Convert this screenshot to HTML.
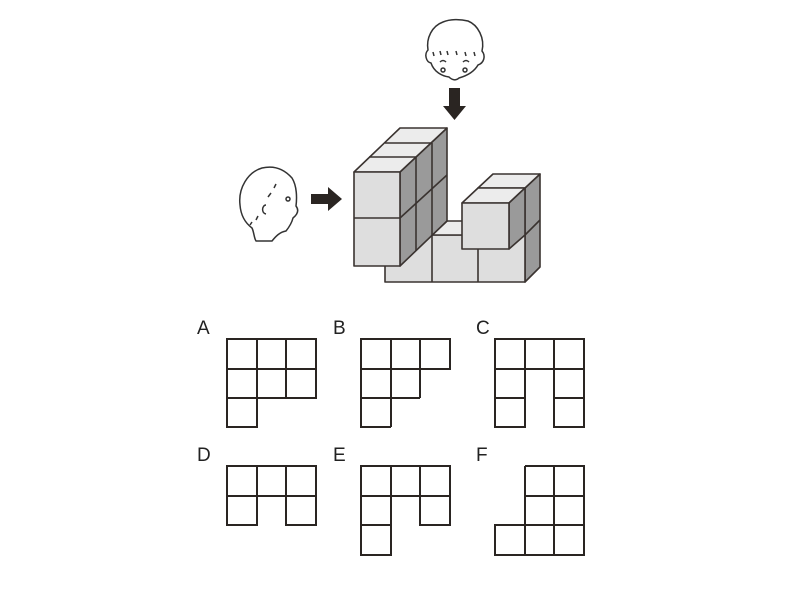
<!DOCTYPE html>
<html><head><meta charset="utf-8"><style>
html,body{margin:0;padding:0;background:#fff;}
svg{display:block}
text{font-family:"Liberation Sans",sans-serif;font-size:19px;fill:#222}
</style></head><body>
<svg width="800" height="600" viewBox="0 0 800 600" xmlns="http://www.w3.org/2000/svg">
<g stroke="#333" stroke-width="1.5" stroke-linejoin="round" fill="none">
<!-- heads -->
<path d="M262,168 C248,172 238,188 240,205 C241,218 248,225 252,228 C254,232 254,238 256,241 L272,241 C276,236 280,232 286,231 C290,226 292,222 293,218 C298,214 299,210 296,206 C297,198 297,186 292,178 C285,170 275,165 262,168 Z"/>
<path d="M276,184 l-2,4 M271,193 l-3,4 M266,205 c-4,0 -5,8 0,9 M258,216 l-2,4 M252,222 l-2,3"/>
<circle cx="288" cy="199" r="2"/>
<path d="M443,22 C432,26 426,38 428,50 C424,54 426,62 431,63 C434,72 442,76 449,77 C452,80 456,81 459,78 C466,76 474,72 478,65 C484,63 486,56 482,51 C485,38 478,25 468,21 C460,19 450,19 443,22 Z"/>
<path d="M433,52 l1,4 M440,51 l1,4 M447,51 l1,4 M456,51 l1,4 M465,52 l1,4 M474,52 l1,4 M440,62 q3,-3 6,0 M463,62 q3,-3 6,0"/>
<circle cx="443" cy="70" r="2"/><circle cx="465" cy="70" r="2"/>
</g>
<!-- arrows -->
<polygon points="311,194 328,194 328,187 342,199 328,211 328,204 311,204" fill="#2a2522"/>
<polygon points="449,88 460,88 460,106 466,106 454.5,120 443,106 449,106" fill="#2a2522"/>
<!-- blocks -->
<g stroke="#3a3330" stroke-width="1.6" stroke-linejoin="round">
<!-- right back column side -->
<polygon points="525,188 540,174 540,267 525,282" fill="#9a9a9a"/>
<line x1="525" y1="235" x2="540" y2="220"/>
<!-- base front -->
<rect x="385" y="235" width="140" height="47" fill="#dedede"/>
<line x1="432" y1="235" x2="432" y2="282"/><line x1="478" y1="235" x2="478" y2="282"/>
<!-- base top strip -->
<polygon points="432,235 478,235 492,221 447,221" fill="#ececec"/>
<!-- right block -->
<polygon points="478,188 525,188 540,174 493,174" fill="#ececec"/>
<polygon points="462,203 509,203 525,188 478,188" fill="#ececec"/>
<polygon points="509,203 525,188 525,235 509,249" fill="#9a9a9a"/>
<rect x="462" y="203" width="47" height="46" fill="#dedede"/>
<!-- tower side -->
<polygon points="400,172 447,128 447,221 400,266" fill="#9a9a9a"/>
<line x1="400" y1="218" x2="447" y2="175"/>
<line x1="416" y1="157" x2="416" y2="251"/>
<line x1="432" y1="143" x2="432" y2="236"/>
<!-- tower tops -->
<polygon points="354,172 400,128 447,128 400,172" fill="#ececec"/>
<line x1="369" y1="157" x2="416" y2="157"/>
<line x1="385" y1="143" x2="432" y2="143"/>
<!-- tower front -->
<rect x="354" y="172" width="46" height="94" fill="#dedede"/>
<line x1="354" y1="218" x2="400" y2="218"/>
</g>
<!-- answer grids -->
<g stroke="#2a2522" stroke-width="2" fill="none">
<!-- A -->
<path d="M227,339 H316 V398 H227 Z M227,369 H316 M257,339 V398 M286,339 V398 M227,398 V427 H257 V398"/>
<!-- B -->
<path d="M361,339 H450 V369 H361 Z M391,339 V427 M420,339 V398 M361,369 V427 H391 M361,398 H420 M391,369 M361,398"/>
<path d="M391,369 H420 V398"/>
<!-- C -->
<path d="M495,339 H584 V369 H495 Z M525,339 V427 H495 V339 M554,339 V427 H584 V369 M495,398 H525 M554,398 H584"/>
<!-- D -->
<path d="M227,466 H316 V496 H227 Z M257,466 V525 H227 V496 M286,466 V525 H316 V496"/>
<!-- E -->
<path d="M361,466 H450 V496 H361 Z M391,466 V555 H361 V496 M420,466 V525 H450 V496 M361,525 H391"/>
<!-- F -->
<path d="M525,466 H584 V555 H495 V525 H584 M525,466 V555 M554,466 V555 M525,496 H584"/>
</g>
<text x="197" y="334">A</text>
<text x="333" y="334">B</text>
<text x="476" y="334">C</text>
<text x="197" y="461">D</text>
<text x="333" y="461">E</text>
<text x="476" y="461">F</text>
</svg>
</body></html>
